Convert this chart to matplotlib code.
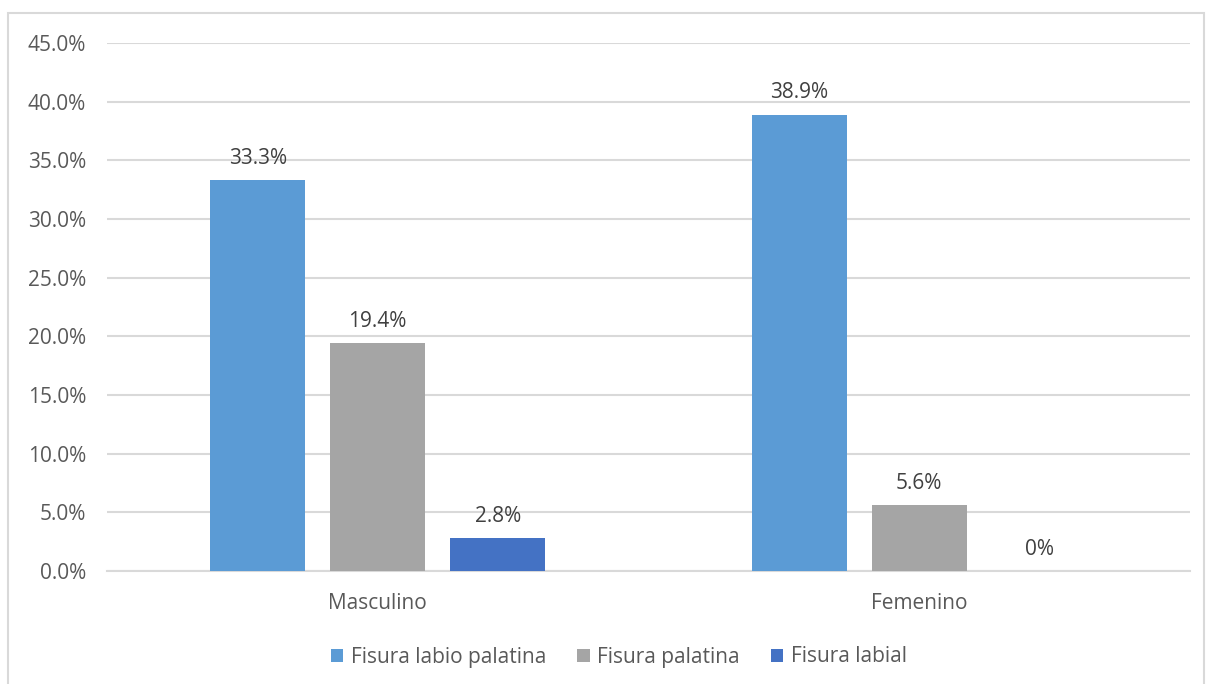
import numpy as np
import matplotlib.pyplot as plt
from matplotlib.patches import Rectangle

plt.rcParams['font.family'] = ['Open Sans', 'DejaVu Sans']

categories = ['Masculino', 'Femenino']
series = ['Fisura labio palatina', 'Fisura palatina', 'Fisura labial']
values = [[33.3, 38.9], [19.4, 5.6], [2.8, 0.0]]
labels = [['33.3%', '38.9%'], ['19.4%', '5.6%'], ['2.8%', '0%']]
colors = ['#5B9BD5', '#A5A5A5', '#4472C4']
yticks = np.arange(0, 46, 5)

txt = '#595959'
grid = '#D9D9D9'

fig = plt.figure(figsize=(12.06, 6.84), dpi=100)
fig.patches.append(Rectangle((8/1206, -0.01), 1196/1206, 1 - 13/684 + 0.01,
                             transform=fig.transFigure, fill=False,
                             edgecolor=grid, linewidth=1.5))
ax = fig.add_axes([107/1206, 1 - 571/684, 1083/1206, 528/684])

x = np.arange(len(categories))
w = 0.1755
step = 0.2215
for i in range(len(series)):
    xs = x + (i - 1) * step
    ax.bar(xs, values[i], width=w, color=colors[i], label=series[i], zorder=3)
    for xi, v, lab in zip(xs, values[i], labels[i]):
        ax.annotate(lab, (xi, v), xytext=(0, 8), textcoords='offset points',
                    ha='center', va='bottom', fontsize=15, color='#404040')

ax.set_xlim(-0.5, 1.5)
ax.set_ylim(0, 45)
ax.set_yticks(yticks)
ax.set_yticklabels([f'{t:.1f}%' for t in yticks])
ax.set_xticks(x)
ax.set_xticklabels(categories)
ax.tick_params(axis='both', length=0, labelsize=15, labelcolor=txt)
ax.tick_params(axis='y', pad=15)
ax.tick_params(axis='x', pad=16)
ax.grid(axis='y', color=grid, linewidth=1.5, zorder=0)
for s in ['top', 'right', 'left']:
    ax.spines[s].set_visible(False)
ax.spines['bottom'].set_color(grid)
ax.spines['bottom'].set_linewidth(1.5)

fig.legend(loc='center', bbox_to_anchor=(0.513, 1 - 657/684), ncol=3,
           frameon=False, fontsize=15, labelcolor=txt, handlelength=0.6,
           handleheight=0.6, handletextpad=0.35, columnspacing=1.5)

fig.savefig('out.png', dpi=100)
